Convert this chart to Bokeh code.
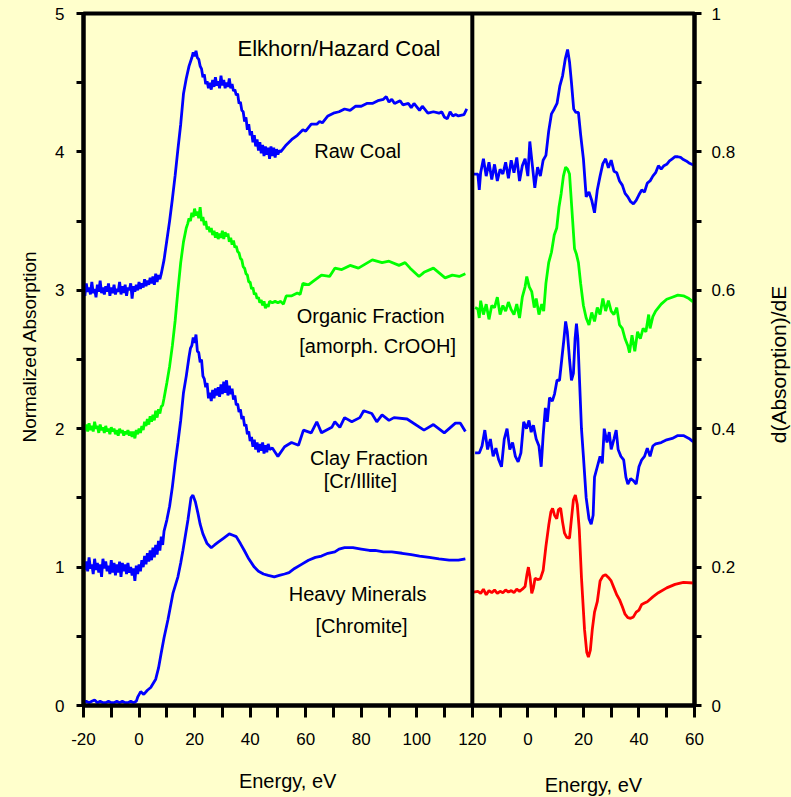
import math
from bokeh.plotting import figure
from bokeh.models import Range1d, LinearAxis, FixedTicker, Label, Span
from bokeh.embed import file_html
from bokeh.resources import INLINE

# ---------------- data: left panel (normalized absorption) ----------------
RAW_E = [-20, -19.5, -19, -18.5, -18, -17.5, -17, -16.5, -16, -15.5, -15, -14.5, -14, -13.5, -13, -12.5,
         -12, -11.5, -11, -10.5, -10, -9.5, -9, -8.5, -8, -7.5, -7, -6.5, -6, -5.5, -5, -4.5,
         -4, -3.5, -3, -2.5, -2, -1.5, -1, -0.5, 0, 0.5, 1, 1.5, 2, 2.5, 3, 3.5,
         4, 4.5, 5, 5.5, 6, 6.5, 7, 7.5, 8,
         9, 10, 11, 12, 13, 14, 15, 16, 17, 18, 19,
         19.5, 20, 20.5, 21, 21.5, 22, 22.5, 23, 23.5, 24, 24.5, 25, 25.5, 26, 26.5, 27,
         27.5, 28, 28.5, 29, 29.5, 30, 30.5, 31, 31.5, 32, 32.5, 33, 33.5, 34, 34.5, 35,
         35.5, 36, 36.5, 37, 37.5, 38, 38.5, 39, 39.5, 40, 40.5, 41, 41.5, 42, 42.5, 43,
         43.5, 44, 44.5, 45, 45.5, 46, 46.5, 47, 47.5, 48, 48.5, 49, 49.5, 50, 50.5, 51,
         53, 55, 57, 59, 60, 62, 64, 65, 66, 68, 70, 72, 74, 76, 78, 80, 82, 84, 86, 88, 89, 90,
         91, 92, 94, 95, 97, 98, 99, 101, 102, 104, 106, 108, 109, 110, 111, 112, 113, 114, 115, 117, 118]
RAW_A = [3.03, 2.96, 3.05, 2.99, 3.02, 2.97, 3.06, 2.98, 3.01, 2.95, 3.04, 2.99, 3.07, 2.98, 3.02, 2.97,
         3.03, 2.99, 3.05, 2.96, 3.02, 2.98, 3.04, 2.97, 3.01, 2.99, 3.06, 2.97, 3.03, 2.98, 3.04, 2.96,
         3.02, 3.00, 3.05, 2.94, 3.03, 2.99, 3.04, 3.00, 3.06, 3.01, 3.05, 3.02, 3.08, 3.03, 3.07, 3.04,
         3.09, 3.05, 3.10, 3.04, 3.12, 3.06, 3.11, 3.08, 3.12,
         3.22, 3.36, 3.50, 3.66, 3.83, 4.02, 4.20, 4.42, 4.53, 4.62, 4.68,
         4.72, 4.69, 4.73, 4.68, 4.67, 4.62, 4.60, 4.54, 4.56, 4.49, 4.51, 4.46, 4.50, 4.45, 4.52, 4.47,
         4.54, 4.48, 4.51, 4.46, 4.55, 4.48, 4.52, 4.46, 4.50, 4.47, 4.53, 4.46, 4.49, 4.44, 4.45, 4.41,
         4.42, 4.35, 4.36, 4.30, 4.29, 4.22, 4.25, 4.16, 4.20, 4.12, 4.15, 4.07, 4.12, 4.04, 4.09, 4.01,
         4.07, 3.99, 4.05, 3.97, 4.04, 3.98, 4.03, 3.95, 4.04, 3.97, 4.03, 3.96, 4.02, 3.98, 4.01, 4.00,
         4.05, 4.09, 4.12, 4.16, 4.15, 4.20, 4.20, 4.22, 4.21, 4.26, 4.28, 4.29, 4.31, 4.30, 4.33, 4.33, 4.35, 4.35, 4.37, 4.38, 4.40, 4.36,
         4.38, 4.35, 4.37, 4.34, 4.35, 4.32, 4.35, 4.30, 4.33, 4.28, 4.29, 4.28, 4.29, 4.25, 4.24, 4.29, 4.26, 4.27, 4.26, 4.27, 4.31]

ORG_E = [-20, -19.5, -19, -18.5, -18, -17.5, -17, -16.5, -16, -15.5, -15, -14.5, -14, -13.5, -13, -12.5,
         -12, -11.5, -11, -10.5, -10, -9.5, -9, -8.5, -8, -7.5, -7, -6.5, -6, -5.5, -5, -4.5,
         -4, -3.5, -3, -2.5, -2, -1.5, -1, -0.5, 0, 0.5, 1, 1.5, 2, 2.5, 3, 3.5,
         4, 4.5, 5, 5.5, 6, 6.5, 7, 7.5, 8, 8.5, 9,
         10, 11, 12, 13, 14, 15, 16, 17,
         17.5, 18, 18.5, 19, 19.5, 20, 20.5, 21, 21.5, 22, 22.5, 23, 23.5, 24, 24.5, 25,
         25.5, 26, 26.5, 27, 27.5, 28, 28.5, 29, 29.5, 30, 30.5, 31, 31.5, 32, 32.5, 33,
         33.5, 34, 34.5, 35, 35.5, 36, 36.5, 37, 37.5, 38, 38.5, 39, 39.5, 40, 40.5, 41,
         41.5, 42, 42.5, 43, 43.5, 44, 44.5, 45, 45.5, 46, 46.5, 47, 48, 49, 50, 51, 52, 53,
         55, 57, 58, 59, 61, 63, 65.7, 68.6, 70.5, 73, 76, 79, 84, 87.5, 90, 93.6, 95.8, 97.6,
         100.8, 102.6, 106, 110.2, 112.8, 115.3, 117.5]
ORG_A = [2.04, 1.99, 2.03, 1.98, 2.04, 1.99, 2.02, 1.98, 2.05, 2.00, 2.02, 1.97, 2.03, 1.99, 2.01, 1.97,
         2.02, 1.98, 2.00, 1.96, 2.01, 1.98, 2.00, 1.96, 1.99, 1.95, 2.00, 1.97, 1.99, 1.95, 1.98, 1.96,
         1.99, 1.95, 1.98, 1.94, 1.98, 1.93, 1.99, 1.96, 2.00, 1.97, 2.02, 1.99, 2.05, 2.02, 2.07, 2.03,
         2.09, 2.05, 2.10, 2.06, 2.13, 2.08, 2.14, 2.11, 2.16, 2.17, 2.22,
         2.33, 2.45, 2.60, 2.78, 3.00, 3.20, 3.35, 3.45,
         3.48, 3.52, 3.50, 3.56, 3.53, 3.59, 3.54, 3.57, 3.52, 3.60, 3.50, 3.53, 3.47, 3.50, 3.44, 3.46,
         3.42, 3.45, 3.40, 3.43, 3.38, 3.42, 3.37, 3.41, 3.38, 3.43, 3.37, 3.42, 3.39, 3.41, 3.35, 3.38,
         3.33, 3.36, 3.31, 3.32, 3.28, 3.27, 3.23, 3.22, 3.17, 3.16, 3.12, 3.11, 3.06, 3.06, 3.01, 3.02,
         2.97, 2.98, 2.94, 2.95, 2.91, 2.93, 2.89, 2.92, 2.87, 2.90, 2.88, 2.92, 2.91, 2.92, 2.91, 2.92, 2.90, 2.96,
         2.96, 2.98, 2.97, 3.05, 3.04, 3.07, 3.11, 3.10, 3.16, 3.15, 3.18, 3.16, 3.22, 3.20, 3.21, 3.18, 3.20, 3.16,
         3.10, 3.13, 3.16, 3.09, 3.11, 3.10, 3.12]

CLAY_E = [-20, -19.5, -19, -18.5, -18, -17.5, -17, -16.5, -16, -15.5, -15, -14.5, -14, -13.5, -13, -12.5,
          -12, -11.5, -11, -10.5, -10, -9.5, -9, -8.5, -8, -7.5, -7, -6.5, -6, -5.5, -5, -4.5,
          -4, -3.5, -3, -2.5, -2, -1.5, -1, -0.5, 0, 0.5, 1, 1.5, 2, 2.5, 3, 3.5,
          4, 4.5, 5, 5.5, 6, 6.5, 7, 7.5, 8, 8.5, 9,
          10, 11, 12, 13, 14, 15, 16, 17, 18,
          18.5, 19, 19.5, 20, 20.5, 21, 21.5, 22, 22.5, 23, 23.5, 24, 24.5, 25, 25.5, 26,
          26.5, 27, 27.5, 28, 28.5, 29, 29.5, 30, 30.5, 31, 31.5, 32, 32.5, 33, 33.5, 34,
          34.5, 35, 35.5, 36, 36.5, 37, 37.5, 38, 38.5, 39, 39.5, 40, 40.5, 41, 41.5, 42,
          42.5, 43, 43.5, 44, 44.5, 45, 45.5, 46, 46.5, 47, 48, 49, 50,
          52.4, 54.9, 57.4, 59.2, 62, 64, 65.7, 69.4, 70.5, 72.3, 74, 76.6, 79.5, 80.9, 83.8, 85.6,
          87.5, 90, 91.8, 96.5, 102.6, 106, 109.9, 113.9, 115.7, 117.5]
CLAY_A = [1.05, 0.98, 1.04, 0.97, 1.07, 0.99, 1.02, 0.95, 1.06, 0.98, 1.03, 0.96, 1.02, 0.93, 1.06, 0.99,
          1.04, 0.97, 1.01, 0.95, 1.05, 0.96, 1.03, 0.94, 1.02, 0.96, 1.04, 0.93, 1.03, 0.97, 1.02, 0.95,
          1.03, 0.96, 1.00, 0.94, 0.99, 0.90, 1.01, 0.95, 1.02, 0.97, 1.05, 1.00, 1.08, 1.02, 1.10, 1.04,
          1.12, 1.05, 1.14, 1.07, 1.16, 1.09, 1.19, 1.12, 1.22, 1.16, 1.26,
          1.34, 1.44, 1.58, 1.75, 1.90, 2.06, 2.26, 2.38, 2.52,
          2.58, 2.60, 2.66, 2.62, 2.68, 2.56, 2.55, 2.48, 2.50, 2.38, 2.36, 2.30, 2.33, 2.22, 2.26, 2.20,
          2.28, 2.22, 2.29, 2.24, 2.30, 2.23, 2.32, 2.25, 2.34, 2.26, 2.35, 2.24, 2.31, 2.25, 2.29, 2.21,
          2.24, 2.17, 2.18, 2.12, 2.14, 2.07, 2.09, 2.02, 2.03, 1.96, 1.98, 1.91, 1.94, 1.87, 1.92, 1.85,
          1.90, 1.83, 1.89, 1.84, 1.90, 1.82, 1.88, 1.83, 1.89, 1.85, 1.86, 1.83, 1.80,
          1.87, 1.90, 1.88, 1.99, 1.97, 2.05, 1.97, 2.01, 2.05, 2.01, 2.08, 2.05, 2.08, 2.13, 2.11, 2.05,
          2.10, 2.06, 2.08, 2.07, 1.99, 2.03, 1.97, 2.04, 2.04, 1.98]

HEAVY_E = [-20, -19, -18, -17, -16, -15, -14, -13, -12, -11, -10, -9, -8, -7, -6, -5, -4, -3, -2, -1,
           -0.5, 0.6, 1.7, 3, 4.2, 6, 7, 7.9, 9, 10.4, 12.2, 14, 15, 15.8, 16.7, 17.6, 18.7, 19.4, 20.3, 21.2,
           22, 23, 24.5, 26, 27.2, 28.5, 30.5, 32.5, 33.8, 35, 36.5, 37.9, 39.5, 41.5, 43, 44.8, 46.5, 48.7, 50.5, 52.4,
           54, 56, 58.5, 61, 63.5, 65.7, 68, 70.5, 72, 74, 77, 80, 83, 85, 88, 91, 94.7, 98, 101, 104.5,
           108, 111.7, 115, 117.5]
HEAVY_A = [0.02, 0.03, 0.02, 0.03, 0.04, 0.02, 0.03, 0.02, 0.02, 0.03, 0.02, 0.02, 0.03, 0.02, 0.03, 0.02, 0.02, 0.03, 0.02, 0.03,
           0.06, 0.10, 0.08, 0.11, 0.13, 0.19, 0.27, 0.37, 0.49, 0.62, 0.81, 0.93, 1.03, 1.12, 1.23, 1.34, 1.50, 1.52, 1.47, 1.39,
           1.31, 1.24, 1.17, 1.14, 1.16, 1.18, 1.21, 1.24, 1.23, 1.22, 1.17, 1.12, 1.06, 1.00, 0.97, 0.95, 0.94, 0.93, 0.94, 0.95,
           0.96, 0.99, 1.02, 1.05, 1.07, 1.08, 1.10, 1.11, 1.13, 1.14, 1.14, 1.13, 1.12, 1.12, 1.11, 1.11, 1.10, 1.09, 1.08, 1.07,
           1.06, 1.05, 1.05, 1.06]

# ---------------- data: right panel (derivative) ----------------
DRAW_E = [-19.5, -18, -17.5, -17, -16, -15, -14, -13, -12, -11, -10, -9, -8, -7, -6, -5, -4, -3, -2, -1,
          0, 0.7, 1.5, 2.5, 3.5, 4.5, 5.5, 6.5, 7.5, 8.5, 9.5, 10.5, 11.5, 12.5, 13.5, 14.3, 15, 15.7, 16.5, 17.3,
          18.2, 19, 20, 21, 22, 23, 24, 25, 26, 27, 28, 29, 30, 31, 32, 33, 34, 35, 36, 37,
          38, 39, 40, 41, 42, 43, 44, 45, 46, 47, 48, 49, 50, 51, 52, 53, 54, 55, 56, 57, 58, 59.6]
DRAW_A = [0.768, 0.768, 0.745, 0.770, 0.790, 0.765, 0.785, 0.760, 0.782, 0.758, 0.775, 0.768, 0.785, 0.762, 0.788, 0.770, 0.792, 0.758, 0.780, 0.790,
          0.765, 0.815, 0.785, 0.748, 0.778, 0.765, 0.788, 0.795, 0.830, 0.855, 0.862, 0.870, 0.895, 0.910, 0.935, 0.948, 0.930, 0.900, 0.862, 0.857,
          0.857, 0.825, 0.790, 0.735, 0.742, 0.730, 0.712, 0.745, 0.765, 0.783, 0.790, 0.777, 0.788, 0.772, 0.770, 0.758, 0.752, 0.740, 0.735, 0.728,
          0.725, 0.730, 0.738, 0.745, 0.742, 0.755, 0.758, 0.765, 0.770, 0.780, 0.775, 0.780, 0.782, 0.787, 0.790, 0.793, 0.793, 0.792, 0.789, 0.787, 0.784, 0.781]

DORG_E = [-19, -18, -17.5, -17, -16, -15, -14, -13, -12, -11, -10, -9, -8, -7, -6, -5, -4, -3, -2, -1,
          -0.4, 0.5, 1.4, 2.3, 3, 4, 5, 5.7, 6.5, 7.5, 8.5, 9.5, 10.4, 11.2, 12, 12.8, 13.6, 14.3, 15, 15.8,
          16.8, 17.5, 18.2, 19, 20, 21, 22, 23, 24, 25, 26, 27, 28, 29, 30, 31, 32, 33, 34, 35,
          36, 36.6, 37.5, 38.5, 39.5, 40.5, 41.5, 42.5, 43.5, 44, 45, 46, 47, 48, 50, 52, 54, 56, 58, 59.6]
DORG_A = [0.575, 0.573, 0.560, 0.585, 0.565, 0.580, 0.558, 0.578, 0.575, 0.590, 0.565, 0.578, 0.570, 0.583, 0.572, 0.565, 0.580, 0.560, 0.590, 0.605,
          0.620, 0.605, 0.598, 0.575, 0.588, 0.565, 0.580, 0.570, 0.610, 0.640, 0.655, 0.680, 0.690, 0.720, 0.740, 0.765, 0.778, 0.775, 0.768, 0.720,
          0.660, 0.652, 0.640, 0.610, 0.578, 0.560, 0.550, 0.568, 0.555, 0.575, 0.565, 0.588, 0.570, 0.585, 0.570, 0.565, 0.575, 0.550, 0.545, 0.530,
          0.520, 0.510, 0.535, 0.512, 0.540, 0.530, 0.545, 0.540, 0.565, 0.545, 0.562, 0.570, 0.575, 0.580, 0.587, 0.590, 0.593, 0.592, 0.588, 0.583]

DCLAY_E = [-19, -17.5, -16.5, -15.5, -14.5, -13.5, -12.5, -11.5, -10.5, -9.5, -8.5, -7.5, -6.5, -5.5, -4.5, -3.5, -2.5, -1.5, -0.5, 0.4,
           1.2, 2, 3, 4, 4.8, 5.5, 6.3, 7, 7.8, 8.8, 9.6, 10.5, 11.4, 12.2, 13, 13.6, 14.2, 15, 15.7, 16.4,
           17, 17.5, 18, 18.6, 19.3, 20, 21, 22, 22.8, 23.5, 24, 25, 26, 26.8, 27.5, 28.5, 29.3, 30, 31, 31.8,
           32.5, 33.5, 34.5, 35.3, 36, 37, 38, 39, 40, 41, 42, 43, 44, 45, 46, 48, 50, 52, 54, 56, 58, 59.6]
DCLAY_A = [0.365, 0.365, 0.375, 0.398, 0.370, 0.385, 0.360, 0.372, 0.355, 0.345, 0.385, 0.400, 0.370, 0.380, 0.360, 0.352, 0.365, 0.410, 0.400, 0.412,
           0.395, 0.405, 0.385, 0.375, 0.345, 0.390, 0.430, 0.410, 0.445, 0.440, 0.450, 0.470, 0.470, 0.500, 0.530, 0.555, 0.540, 0.500, 0.470, 0.480,
           0.530, 0.552, 0.530, 0.470, 0.400, 0.360, 0.300, 0.270, 0.262, 0.275, 0.330, 0.345, 0.360, 0.350, 0.400, 0.380, 0.395, 0.370, 0.385, 0.398,
           0.370, 0.360, 0.355, 0.330, 0.320, 0.328, 0.325, 0.320, 0.345, 0.355, 0.360, 0.372, 0.360, 0.375, 0.378, 0.380, 0.384, 0.386, 0.390, 0.390, 0.386, 0.381]

DHEAVY_E = [-19.5, -18, -17, -16, -15, -14, -13, -12, -11, -10, -9, -8, -7, -6, -5, -4, -3, -2, -1, -0.3,
            0.2, 0.8, 1.4, 2, 2.6, 3.5, 4.5, 5.5, 6.5, 7.5, 8.3, 8.9, 9.6, 10.4, 11, 11.8, 12.5, 13.2, 14, 15,
            15.7, 16.4, 17.1, 17.8, 18.5, 19.3, 20.4, 21.2, 21.8, 22.5, 23.2, 24, 25, 26, 27, 28, 29, 30, 31, 32,
            33, 34, 35, 36, 37, 38, 39, 40, 41, 42, 43, 45, 47, 50, 53, 56, 59.6]
DHEAVY_A = [0.164, 0.165, 0.162, 0.168, 0.160, 0.166, 0.163, 0.167, 0.162, 0.165, 0.163, 0.167, 0.164, 0.166, 0.163, 0.168, 0.165, 0.168, 0.172, 0.190,
            0.200, 0.185, 0.162, 0.170, 0.184, 0.182, 0.183, 0.195, 0.230, 0.260, 0.280, 0.285, 0.275, 0.270, 0.283, 0.285, 0.265, 0.249, 0.243, 0.242,
            0.270, 0.297, 0.304, 0.290, 0.255, 0.185, 0.110, 0.077, 0.070, 0.080, 0.110, 0.135, 0.150, 0.180, 0.187, 0.189, 0.185, 0.180, 0.170, 0.160,
            0.153, 0.143, 0.132, 0.127, 0.126, 0.128, 0.135, 0.138, 0.146, 0.148, 0.150, 0.157, 0.163, 0.170, 0.175, 0.178, 0.177]

# ---------------- ticks and texts ----------------
X_TICKS = [-20, 0, 20, 40, 60, 80, 100, 120, 140, 160, 180, 200]
X_MINOR = [-10, 10, 30, 50, 70, 90, 110, 130, 150, 170, 190]
X_LABELS = {-20: "-20", 0: "0", 20: "20", 40: "40", 60: "60", 80: "80", 100: "100",
            120: "120", 140: "0", 160: "20", 180: "40", 200: "60"}
YL_TICKS = [0, 1, 2, 3, 4, 5]
YL_MINOR = [0.5, 1.5, 2.5, 3.5, 4.5]
YR_TICKS = [0, 0.2, 0.4, 0.6, 0.8, 1.0]
YR_MINOR = [0.1, 0.3, 0.5, 0.7, 0.9]
YR_LABELS = {0: "0", 0.2: "0.2", 0.4: "0.4", 0.6: "0.6", 0.8: "0.8", 1: "1"}

BG = "#FFFFCC"
BLUE = "#0000FF"
GREEN = "#00FF00"
RED = "#FF0000"
FONT = "Liberation Sans"

p = figure(width=791, height=797,
           x_range=Range1d(-20, 200), y_range=Range1d(0, 5),
           output_backend="svg", toolbar_location=None,
           min_border_left=83, min_border_right=97, min_border_top=13, min_border_bottom=92,
           background_fill_color=BG, border_fill_color=BG)
p.extra_x_ranges = {"r": Range1d(-160, 60)}
p.extra_y_ranges = {"r": Range1d(0, 1)}
p.xgrid.visible = False
p.ygrid.visible = False
p.outline_line_color = "black"
p.outline_line_width = 4
p.outline_line_alpha = 1.0


def style_axis(ax, tick_len, standoff):
    ax.axis_line_width = 4
    ax.axis_line_color = "black"
    ax.major_tick_line_width = 3
    ax.minor_tick_line_width = 3
    ax.major_tick_line_color = "black"
    ax.minor_tick_line_color = "black"
    ax.major_tick_in = 0
    ax.minor_tick_in = 0
    ax.major_tick_out = tick_len
    ax.minor_tick_out = tick_len
    ax.major_label_text_font = FONT
    ax.major_label_text_font_size = "17px"
    ax.major_label_text_color = "black"
    ax.major_label_standoff = standoff


xa = p.xaxis[0]
xa.ticker = FixedTicker(ticks=X_TICKS, minor_ticks=X_MINOR)
xa.major_label_overrides = X_LABELS
style_axis(xa, 12, 15)

ya = p.yaxis[0]
ya.ticker = FixedTicker(ticks=YL_TICKS, minor_ticks=YL_MINOR)
style_axis(ya, 7, 12)

yr = LinearAxis(y_range_name="r", ticker=FixedTicker(ticks=YR_TICKS, minor_ticks=YR_MINOR))
yr.major_label_overrides = YR_LABELS
style_axis(yr, 7, 10)
p.add_layout(yr, "right")

# divider between the two panels
p.add_layout(Span(location=120, dimension="height", line_color="black", line_width=4))

# left panel curves
LW = 2.8
p.line(RAW_E, RAW_A, line_color=BLUE, line_width=LW)
p.line(ORG_E, ORG_A, line_color=GREEN, line_width=LW)
p.line(CLAY_E, CLAY_A, line_color=BLUE, line_width=LW)
p.line(HEAVY_E, HEAVY_A, line_color=BLUE, line_width=LW)

# right panel curves
p.line(DRAW_E, DRAW_A, line_color=BLUE, line_width=LW, x_range_name="r", y_range_name="r")
p.line(DORG_E, DORG_A, line_color=GREEN, line_width=LW, x_range_name="r", y_range_name="r")
p.line(DCLAY_E, DCLAY_A, line_color=BLUE, line_width=LW, x_range_name="r", y_range_name="r")
p.line(DHEAVY_E, DHEAVY_A, line_color=RED, line_width=LW, x_range_name="r", y_range_name="r")


def make_text(text, x, y, size, angle=0.0, baseline="alphabetic"):
    return Label(x=x, y=y, text=text, text_font=FONT, text_font_size=size,
                 text_color="black", text_align="center", text_baseline=baseline,
                 angle=angle)


p.add_layout(make_text("Elkhorn/Hazard Coal", 72.0, 4.75, "22px"))
p.add_layout(make_text("Raw Coal", 78.7, 4.01, "20px"))
p.add_layout(make_text("Organic Fraction", 83.4, 2.817, "20px"))
p.add_layout(make_text("[amorph. CrOOH]", 85.9, 2.601, "20px"))
p.add_layout(make_text("Clay Fraction", 82.8, 1.791, "20px"))
p.add_layout(make_text("[Cr/Illite]", 79.7, 1.625, "20px"))
p.add_layout(make_text("Heavy Minerals", 78.7, 0.809, "20px"))
p.add_layout(make_text("[Chromite]", 80.1, 0.577, "20px"))

# axis titles (placed in the border panels so they are not clipped to the frame)
p.add_layout(make_text("Energy, eV", 53.5, -0.549, "20px"), "below")
p.add_layout(make_text("Energy, eV", 163.6, -0.578, "20px"), "below")
p.add_layout(make_text("Normalized Absorption", -39.45, 2.594, "19px",
                       angle=math.pi / 2, baseline="middle"), "left")
p.add_layout(make_text("d(Absorption)/dE", 230.3, 2.464, "21px",
                       angle=math.pi / 2, baseline="middle"), "right")

TEMPLATE = "{% block postamble %}<style>body { background-color: #FFFFCC; }</style>{% endblock %}"

open("out.html", "w").write(file_html(p, INLINE, template=TEMPLATE))
